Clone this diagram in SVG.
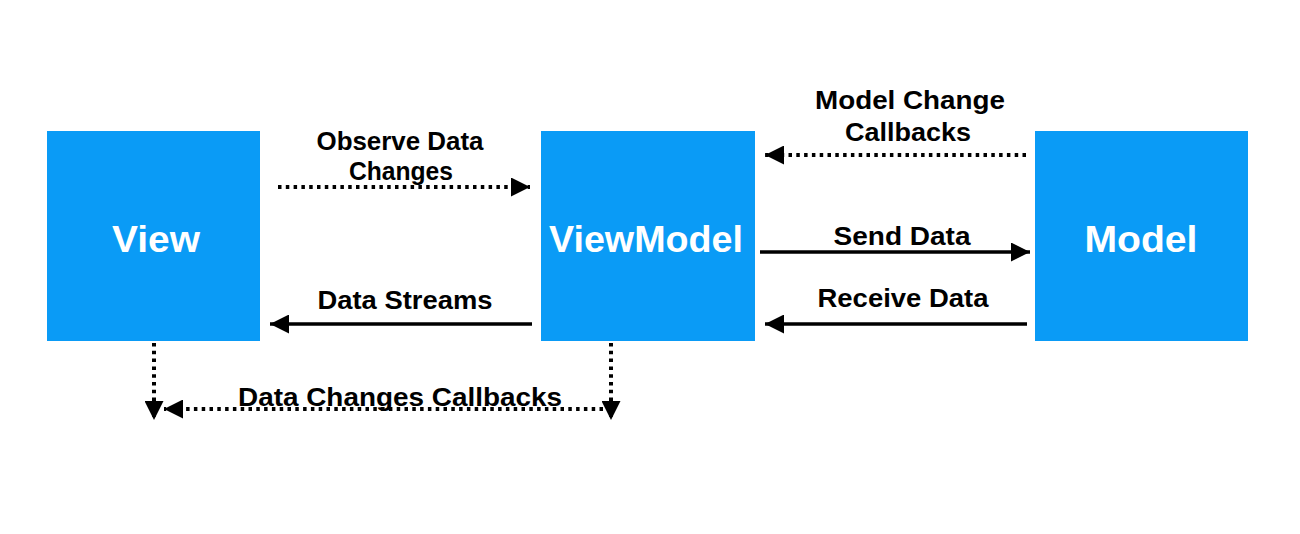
<svg xmlns="http://www.w3.org/2000/svg" width="1300" height="534" viewBox="0 0 1300 534">
<defs>
<style>
.box{fill:#0A9BF6}
.nt{font-family:"Liberation Sans",Arial,sans-serif;font-weight:bold;font-size:37px;fill:#fff;text-anchor:middle}
.lb{font-family:"Liberation Sans",Arial,sans-serif;font-weight:bold;font-size:25px;fill:#000;text-anchor:middle}
.solid{stroke:#000;stroke-width:3.5;fill:none}
.dot{stroke:#000;stroke-width:4;fill:none;stroke-dasharray:3.5 4.3}
</style>
<marker id="ah" viewBox="0 0 10 10" refX="10" refY="5" markerWidth="20" markerHeight="19" markerUnits="userSpaceOnUse" orient="auto">
<path d="M0,0 L10,5 L0,10 Z" fill="#000"/>
</marker>
</defs>
<rect width="1300" height="534" fill="#fff"/>
<g id="view"><rect class="box" x="47" y="131" width="213" height="210"/><text class="nt" x="156" y="252" textLength="88" lengthAdjust="spacingAndGlyphs">View</text></g>
<g id="viewmodel"><rect class="box" x="541" y="131" width="214" height="210"/><text class="nt" x="646" y="252" textLength="194" lengthAdjust="spacingAndGlyphs">ViewModel</text></g>
<g id="model"><rect class="box" x="1035" y="131" width="213" height="210"/><text class="nt" x="1141" y="252" textLength="113" lengthAdjust="spacingAndGlyphs">Model</text></g>
<g id="connectors">
<line class="dot" x1="278" y1="187" x2="530" y2="187" marker-end="url(#ah)"/>
<line class="dot" x1="1026" y1="155" x2="765" y2="155" marker-end="url(#ah)"/>
<line class="solid" x1="760" y1="252" x2="1030" y2="252" marker-end="url(#ah)"/>
<line class="solid" x1="1027" y1="324" x2="765" y2="324" marker-end="url(#ah)"/>
<line class="solid" x1="532" y1="324" x2="270" y2="324" marker-end="url(#ah)"/>
<line class="dot" x1="154" y1="343" x2="154" y2="420" marker-end="url(#ah)"/>
<line class="dot" x1="611" y1="343" x2="611" y2="420" marker-end="url(#ah)"/>
<line class="dot" x1="603" y1="409" x2="164" y2="409" marker-end="url(#ah)"/>
</g>
<g id="labels">
<text class="lb" x="400" y="150" textLength="167" lengthAdjust="spacingAndGlyphs">Observe Data</text>
<text class="lb" x="401" y="180" textLength="104" lengthAdjust="spacingAndGlyphs">Changes</text>
<text class="lb" x="910" y="109" textLength="190" lengthAdjust="spacingAndGlyphs">Model Change</text>
<text class="lb" x="908" y="141" textLength="126" lengthAdjust="spacingAndGlyphs">Callbacks</text>
<text class="lb" x="902" y="245" textLength="137" lengthAdjust="spacingAndGlyphs">Send Data</text>
<text class="lb" x="903" y="307" textLength="171" lengthAdjust="spacingAndGlyphs">Receive Data</text>
<text class="lb" x="405" y="309" textLength="175" lengthAdjust="spacingAndGlyphs">Data Streams</text>
<text class="lb" x="400" y="406" textLength="324" lengthAdjust="spacingAndGlyphs">Data Changes Callbacks</text>
</g>
</svg>
